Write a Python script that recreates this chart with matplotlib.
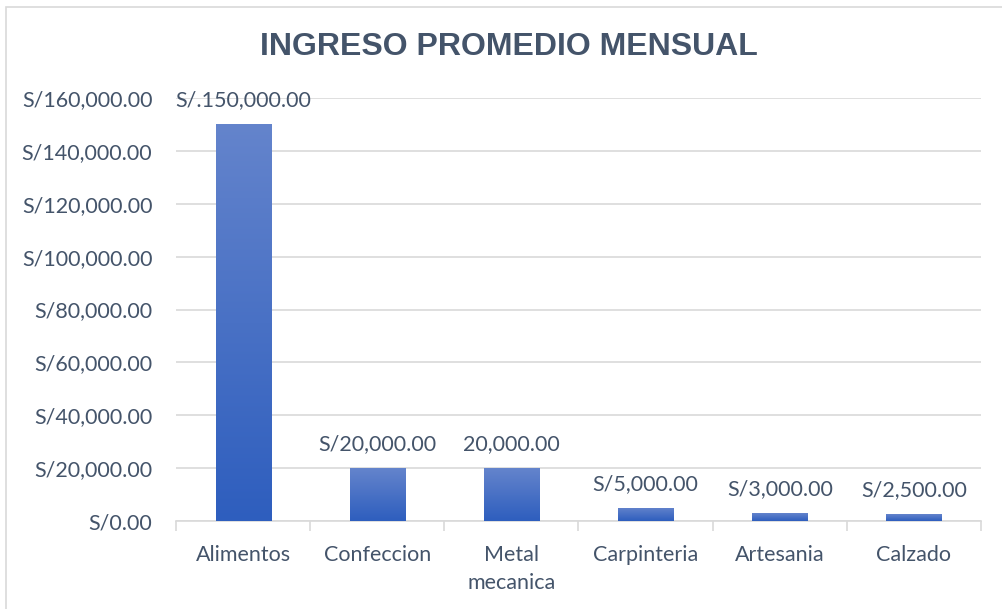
import numpy as np
import matplotlib
matplotlib.use("Agg")
import matplotlib.pyplot as plt
from matplotlib.colors import LinearSegmentedColormap
from matplotlib.patches import Rectangle

categories = ["Alimentos", "Confeccion", "Metal\nmecanica", "Carpinteria", "Artesania", "Calzado"]
ingresos = [150000, 20000, 20000, 5000, 3000, 2500]
etiquetas = ["S/.150,000.00", "S/20,000.00", "20,000.00", "S/5,000.00", "S/3,000.00", "S/2,500.00"]
yticks = [0, 20000, 40000, 60000, 80000, 100000, 120000, 140000, 160000]

txt = "#44546A"
grid = "#D9D9D9"
plt.rcParams['font.family'] = ['Lato', 'DejaVu Sans']

fig = plt.figure(figsize=(10.03, 6.09), dpi=100)
fig.patches.append(Rectangle((6 / 1003, -0.1), 1.1, 1 - 7 / 609 + 0.1, transform=fig.transFigure,
                             fill=False, edgecolor=grid, linewidth=1.2))
ax = fig.add_axes([176 / 1003, 1 - 521 / 609, (981 - 176) / 1003, (521 - 98) / 609])

x = np.arange(len(categories))
bars = ax.bar(x, ingresos, width=0.41, color="none", zorder=3)

cmap = LinearSegmentedColormap.from_list("g", ["#2E5EBE", "#6484CC"])
grad = np.linspace(0, 1, 256).reshape(-1, 1)
for b in bars:
    im = ax.imshow(grad, extent=[b.get_x(), b.get_x() + b.get_width(), 0, b.get_height()],
                   origin="lower", aspect="auto", cmap=cmap, zorder=3)
    im.set_clip_path(b)

for xi, v, lab in zip(x, ingresos, etiquetas):
    ax.annotate(lab, (xi, v), xytext=(0, 10), textcoords="offset points", ha="center", va="bottom",
                fontsize=15.5, color=txt)

ax.set_xlim(-0.5, len(categories) - 0.5)
ax.set_ylim(0, 160000)
ax.set_yticks(yticks)
ax.set_yticklabels(["S/{:,.2f}".format(v) for v in yticks])
ax.set_xticks(x)
ax.set_xticklabels(categories, linespacing=1.55)
ax.set_xticks(np.arange(-0.5, len(categories)), minor=True)
ax.tick_params(axis="x", which="major", length=0, pad=17, labelsize=15.5, labelcolor=txt)
ax.tick_params(axis="x", which="minor", length=7, width=1.2, color=grid, direction="out")
ax.tick_params(axis="y", length=0, pad=17, labelsize=15.5, labelcolor=txt)

ax.grid(axis="y", color=grid, linewidth=1.2, zorder=0)
ax.set_axisbelow(True)
for s in ["top", "right", "left"]:
    ax.spines[s].set_visible(False)
ax.spines["bottom"].set_color(grid)
ax.spines["bottom"].set_linewidth(1.2)

fig.text(509 / 1003, 1 - 47 / 609, "INGRESO PROMEDIO MENSUAL", ha="center", va="center",
         fontsize=23, fontweight="bold", color=txt, family=["Liberation Sans", "DejaVu Sans"])

fig.savefig("out.png", dpi=100)
